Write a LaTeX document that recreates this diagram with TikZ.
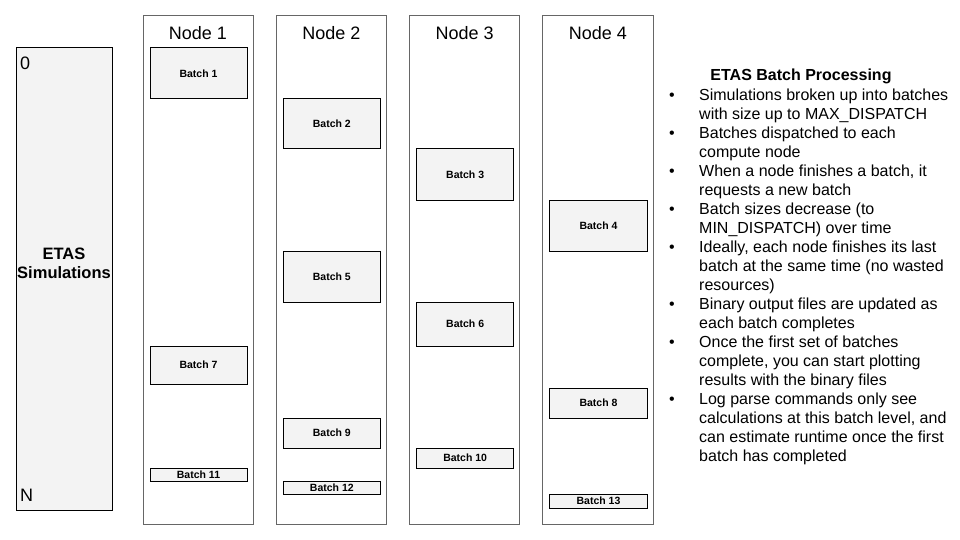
\documentclass[tikz,border=0pt]{standalone}
\usepackage{fontspec}
\setmainfont{Liberation Sans}
\definecolor{batchgray}{HTML}{F3F3F3}
\definecolor{colgray}{HTML}{666666}
\newcommand{\bul}{\makebox[30pt][l]{\textbullet}}
\tikzset{
  simbox/.style={draw=black, fill=batchgray, line width=1pt, minimum width=96pt, minimum height=462pt, inner sep=0pt},
  endlabel/.style={anchor=base west, inner sep=0pt, font=\fontsize{18}{20}\selectfont},
  simtitle/.style={align=center, inner sep=0pt, font=\fontsize{16.5}{19}\selectfont\bfseries},
  column/.style={draw=colgray, line width=1pt, minimum width=110pt, minimum height=508pt, inner sep=0pt},
  colhead/.style={anchor=base, inner sep=0pt, font=\fontsize{18}{20}\selectfont},
  batch/.style={draw=black, fill=batchgray, line width=1pt, minimum width=97pt, inner sep=0pt, font=\fontsize{10.5}{12}\selectfont\bfseries},
  notehead/.style={anchor=base, inner sep=0pt, font=\fontsize{16}{19}\selectfont\bfseries},
  notes/.style={anchor=base west, inner sep=0pt, font=\fontsize{16}{19}\selectfont}
}
\begin{document}
\begin{tikzpicture}[x=1pt, y=-1pt]
    \useasboundingbox (0,0) rectangle (960,540);

    \node (sims) [simbox] at (64,279) {};
    \node (zero) [endlabel] at (20,69.5) {0};
    \node (last) [endlabel] at (20,501.7) {N};
    \node (simtext) [simtitle] at (64,263.7) {ETAS\\Simulations};

    \foreach \k in {1,...,4} {
        \node (col\k) [column] at ({198+133.33*(\k-1)},270) {};
        \node (head\k) [colhead] at ({198+133.33*(\k-1)},39.3) {Node \k};
    }

    \foreach \n/\col/\ya/\yb in {1/1/48/99, 2/2/99/149, 3/3/149/200, 4/4/200/251,
        5/2/251/302, 6/3/302/346, 7/1/346/384, 8/4/388/418, 9/2/418/448,
        10/3/448/468, 11/1/468/481, 12/2/481/494, 13/4/494/508} {
        \pgfmathsetmacro\h{\yb-\ya}
        \node (b\n) [batch, minimum height=\h pt] at ({198.5+133.33*(\col-1)},{(\ya+\yb)/2}) {Batch \n};
    }

    \node (title) [notehead] at (801,80.7) {ETAS Batch Processing};
    \node (notes) [notes] at (669,100.7) {%
        \begin{tabular}[t]{@{}l@{}l@{}}
        \bul & Simulations broken up into batches\\
             & with size up to MAX\_DISPATCH\\
        \bul & Batches dispatched to each\\
             & compute node\\
        \bul & When a node finishes a batch, it\\
             & requests a new batch\\
        \bul & Batch sizes decrease (to\\
             & MIN\_DISPATCH) over time\\
        \bul & Ideally, each node finishes its last\\
             & batch at the same time (no wasted\\
             & resources)\\
        \bul & Binary output files are updated as\\
             & each batch completes\\
        \bul & Once the first set of batches\\
             & complete, you can start plotting\\
             & results with the binary files\\
        \bul & Log parse commands only see\\
             & calculations at this batch level, and\\
             & can estimate runtime once the first\\
             & batch has completed
        \end{tabular}};
\end{tikzpicture}
\end{document}
